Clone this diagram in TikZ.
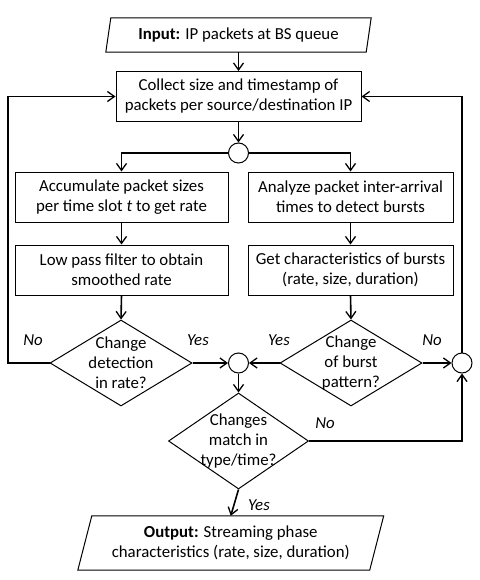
\documentclass[tikz,border=0pt]{standalone}
\usepackage{fontspec}
\setmainfont{Carlito}
\usetikzlibrary{shapes.geometric,arrows.meta}
\begin{document}
\begin{tikzpicture}[x=1pt,y=-1pt,
  every node/.style={font=\fontsize{16.8}{20}\selectfont, align=center},
  box/.style={draw, line width=1pt, inner sep=0pt, minimum height=50pt},
  iobox/.style={inner sep=0pt},
  ioline/.style={line width=1pt},
  decision/.style={draw, line width=1pt, diamond, inner sep=0pt},
  junction/.style={draw, line width=1pt, circle, minimum size=20pt, inner sep=0pt},
  conn/.style={line width=1.6pt, -{Straight Barb[length=7pt,width=10pt,line width=1.3pt]}},
  lab/.style={font=\fontsize{16.8}{20}\selectfont\itshape}]
\useasboundingbox (0,0) rectangle (479,580);

\node[iobox, minimum width=260pt, minimum height=34pt] (in) at (238.5,35) {\textbf{Input:} IP packets at BS queue};
\draw[ioline] ([xshift=-2.5pt]in.south west) -- ([xshift=2.5pt]in.north west) -- ([xshift=2.5pt]in.north east) -- ([xshift=-2.5pt]in.south east) -- cycle;

\node[box, minimum width=245pt] (col) at (238.5,96.5) {Collect size and timestamp of\\packets per source/destination IP};
\node[junction] (c1) at (238.5,153) {};

\node[box, minimum width=213pt] (acc) at (121.5,197) {Accumulate packet sizes\\per time slot \textit{t} to get rate};
\node[box, minimum width=213pt] (lpf) at (121.5,270) {Low pass filter to obtain\\smoothed rate};
\node[box, minimum width=205pt] (ana) at (350.5,197) {Analyze packet inter-arrival\\times to detect bursts};
\node[box, minimum width=205pt] (get) at (350.5,270) {Get characteristics of bursts\\(rate, size, duration)};

\node[decision, minimum width=142pt, minimum height=86pt] (d1) at (121,363) {};
\node (d1t) at (d1.center) {Change\\detection\\in rate?};
\node[decision, minimum width=142pt, minimum height=86pt] (d2) at (351,363) {};
\node (d2t) at (d2.center) {Change\\of burst\\pattern?};

\node[junction] (c2) at (238.5,363) {};
\node[junction] (c3) at (462,363) {};

\node[decision, minimum width=140pt, minimum height=96pt] (d3) at (238.5,441) {};
\node (d3t) at (d3.center) {Changes\\match in\\type/time?};

\node[iobox, minimum width=291.5pt, minimum height=54pt] (out) at (230.75,543) {\textbf{Output:} Streaming phase\\characteristics (rate, size, duration)};
\draw[ioline] ([xshift=-7pt]out.south west) -- ([xshift=7pt]out.north west) -- ([xshift=7pt]out.north east) -- ([xshift=-7pt]out.south east) -- cycle;

\coordinate (lft) at (8,363);

\draw[conn] (in.south) -- (col.north);
\draw[conn] (col.south) -- (c1.north);
\draw[conn] (c1.west) -| (acc.north);
\draw[conn] (c1.east) -| (ana.north);
\draw[conn] (acc.south) -- (lpf.north);
\draw[conn] (ana.south) -- (get.north);
\draw[conn] (lpf.south) -- (d1.north);
\draw[conn] (get.south) -- (d2.north);
\draw[conn] (d1.east) -- (c2.west);
\draw[conn] (d2.west) -- (c2.east);
\draw[conn] (d2.east) -- (c3.west);
\draw[conn] (c3.north) |- (col.east);
\draw[conn] (d1.west) -- (lft) |- (col.west);
\draw[conn] (c2.south) -- (d3.north);
\draw[conn] (d3.east) -| (c3.south);
\draw[conn] (d3.south) -- (out.north);

\node[lab] (l1) at (33,340) {No};
\node[lab] (l2) at (198,340) {Yes};
\node[lab] (l3) at (279,340) {Yes};
\node[lab] (l4) at (432,340) {No};
\node[lab] (l5) at (325,423) {No};
\node[lab] (l6) at (259,505) {Yes};
\end{tikzpicture}
\end{document}
